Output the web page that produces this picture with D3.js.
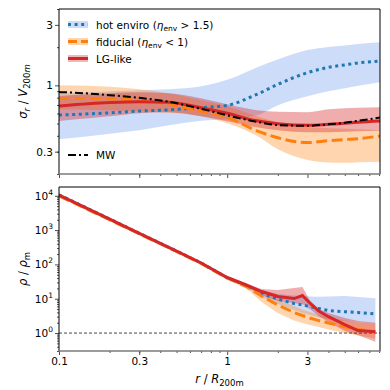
<!DOCTYPE html>
<html>
<head>
<meta charset="utf-8">
<script src="https://cdn.jsdelivr.net/npm/d3@7"></script>
<style>
  body { margin: 0; background: #fff; }
  text { font-family: "DejaVu Sans", sans-serif; }
</style>
</head>
<body>
<div id="canvas"></div>
<script>
"use strict"

/* Data: top panel, sigma_r / V200m vs r / R200m */
let rTop = [0.1, 0.15, 0.2, 0.3, 0.45, 0.7, 1, 1.5, 2, 3, 4, 5, 6, 8.1];

let hotMed = [0.584, 0.596, 0.607, 0.627, 0.641, 0.667, 0.696, 0.849, 1.018, 1.259, 1.386, 1.450, 1.504, 1.553];
let hotHi = [0.865, 0.881, 0.897, 0.913, 0.930, 0.982, 1.105, 1.386, 1.602, 1.897, 2.01, 2.065, 2.12, 2.19];
let hotLo = [0.376, 0.397, 0.415, 0.442, 0.484, 0.525, 0.540, 0.580, 0.696, 0.819, 0.897, 0.947, 0.991, 1.056];

let fidMed = [0.786, 0.786, 0.783, 0.762, 0.709, 0.624, 0.560, 0.438, 0.386, 0.354, 0.366, 0.374, 0.380, 0.399];
let fidHi = [1.0, 0.991, 0.973, 0.930, 0.865, 0.762, 0.684, 0.570, 0.512, 0.467, 0.459, 0.454, 0.450, 0.442];
let fidLo = [0.647, 0.641, 0.636, 0.624, 0.607, 0.570, 0.502, 0.400, 0.313, 0.258, 0.246, 0.245, 0.248, 0.250];

let lgMed = [0.687, 0.715, 0.731, 0.744, 0.735, 0.665, 0.602, 0.525, 0.498, 0.484, 0.493, 0.502, 0.512, 0.524];
let lgHi = [0.824, 0.849, 0.865, 0.881, 0.865, 0.790, 0.709, 0.636, 0.618, 0.613, 0.647, 0.659, 0.665, 0.671];
let lgLo = [0.524, 0.550, 0.570, 0.602, 0.613, 0.570, 0.521, 0.467, 0.442, 0.426, 0.426, 0.430, 0.434, 0.438];

let mwSig = [0.886, 0.862, 0.837, 0.797, 0.742, 0.653, 0.580, 0.516, 0.486, 0.480, 0.493, 0.507, 0.525, 0.557];

/* Data: bottom panel, rho / rho_m vs r / R200m */
let rBot = [0.1, 0.2, 0.3, 0.5, 0.7, 1, 1.3, 1.6, 2, 2.5, 2.8, 3.1, 3.5, 4, 5, 6, 7.6];

let hotRho = [10700, 2100, 810, 245, 111, 41, 24.3, 14.2, 9.8, 7.25, 6.55, 5.93, 5.18, 4.53, 4.18, 3.96, 3.58];
let hotRhoLo = [9700, 1920, 750, 226, 102, 37.5, 21.5, 11.2, 7.0, 4.69, 3.83, 3.35, 2.83, 2.47, 2.24, 2.09, 1.89];
let hotRhoHi = [11800, 2300, 880, 265, 121, 45, 27, 17.9, 13.7, 12.4, 12.0, 11.6, 11.4, 11.6, 12.0, 11.2, 10.3];

let fidRho = [9900, 2000, 780, 238, 107, 40.1, 22.7, 12.0, 6.55, 3.96, 3.24, 2.74, 2.31, 1.96, 1.53, 1.26, 1.09];
let fidRhoLo = [9000, 1820, 715, 218, 97, 36, 20, 8.0, 3.83, 2.31, 1.96, 1.71, 1.5, 1.26, 1.0, 0.85, 0.69];
let fidRhoHi = [10900, 2200, 850, 258, 117, 44, 25.5, 14.2, 9.17, 6.13, 4.84, 4.1, 3.46, 2.93, 2.31, 2.02, 1.89];

let lgRho = [10500, 2080, 800, 243, 110, 41.5, 25.1, 16.2, 11.6, 10.1, 12.4, 7.5, 4.4, 3.0, 1.77, 1.18, 1.09];
let lgRhoLo = [9600, 1900, 740, 225, 101, 38, 22.5, 12.8, 8.6, 7.4, 7.0, 5.0, 3.13, 2.09, 1.14, 0.87, 0.56];
let lgRhoHi = [11500, 2270, 870, 262, 119, 45, 27.5, 19.1, 17.9, 20.5, 21.9, 9.0, 5.0, 3.83, 2.74, 2.24, 2.0];

/* Tick values */
let xTicks = [0.1, 0.3, 1, 3];
let xTickLabels = ["0.1", "0.3", "1", "3"];
let yTopTicks = [0.3, 1, 3];
let yTopTickLabels = ["0.3", "1", "3"];
let yBotTicks = [1, 10, 100, 1000, 10000];
let yBotExponents = ["0", "1", "2", "3", "4"];

/* Drawing configuration */
let svgWidth = 390;
let svgHeight = 390;
let left = 59, right = 380;
let top1 = 9, bot1 = 174, top2 = 187, bot2 = 351;

let blue = "#1f77b4", orange = "#ff7f0e", red = "#d62728";

let svg = d3.select("#canvas")
    .append("svg")
    .attr("width", svgWidth)
    .attr("height", svgHeight);

/* Scales */
let xScale = d3.scaleLog().domain([0.1, 8.1]).range([left, right]);
let yTop = d3.scaleLog().domain([0.2, 4]).range([bot1, top1]);
let yBot = d3.scaleLog().domain([0.3, 18000]).range([bot2, top2]);

/* minor tick values */
function minorTicks(lo, hi) {
    let out = [];
    for (let e = Math.floor(Math.log10(lo)); e <= Math.ceil(Math.log10(hi)); e++) {
        for (let m = 2; m <= 9; m++) {
            let v = m * Math.pow(10, e);
            if (v >= lo && v <= hi) out.push(v);
        }
    }
    return out;
}

/* Clip paths */
let defs = svg.append("defs");
defs.append("clipPath").attr("id", "clipTop")
    .append("rect").attr("x", left).attr("y", top1).attr("width", right - left).attr("height", bot1 - top1);
defs.append("clipPath").attr("id", "clipBot")
    .append("rect").attr("x", left).attr("y", top2).attr("width", right - left).attr("height", bot2 - top2);

function drawBand(g, rs, lo, hi, yScale, color, opacity, curve) {
    let rows = rs.map((r, i) => ({ r: r, lo: lo[i], hi: hi[i] }));
    g.append("path")
        .datum(rows)
        .attr("fill", color)
        .attr("fill-opacity", opacity)
        .attr("stroke", "none")
        .attr("d", d3.area()
            .curve(curve)
            .x(d => xScale(d.r))
            .y0(d => yScale(d.lo))
            .y1(d => yScale(d.hi)));
}

function drawLine(g, rs, vals, yScale, color, width, dash, curve) {
    let rows = rs.map((r, i) => ({ r: r, v: vals[i] }));
    g.append("path")
        .datum(rows)
        .attr("fill", "none")
        .attr("stroke", color)
        .attr("stroke-width", width)
        .attr("stroke-dasharray", dash)
        .attr("d", d3.line()
            .curve(curve)
            .x(d => xScale(d.r))
            .y(d => yScale(d.v)));
}

/**** Top panel ****/
let gTop = svg.append("g").attr("clip-path", "url(#clipTop)");
let smooth = d3.curveMonotoneX;
drawBand(gTop, rTop, hotLo, hotHi, yTop, "#6495ed", 0.33, smooth);
drawBand(gTop, rTop, fidLo, fidHi, yTop, orange, 0.33, smooth);
drawBand(gTop, rTop, lgLo, lgHi, yTop, red, 0.38, smooth);
drawLine(gTop, rTop, hotMed, yTop, blue, 3, "3,3.6", smooth);
drawLine(gTop, rTop, fidMed, yTop, orange, 3, "11,4.5", smooth);
drawLine(gTop, rTop, lgMed, yTop, red, 3, null, smooth);
drawLine(gTop, rTop, mwSig, yTop, "black", 2, "8,3,2,3", smooth);

/**** Bottom panel ****/
let gBot = svg.append("g").attr("clip-path", "url(#clipBot)");
let straight = d3.curveLinear;
drawBand(gBot, rBot, hotRhoLo, hotRhoHi, yBot, "#6495ed", 0.33, straight);
drawBand(gBot, rBot, fidRhoLo, fidRhoHi, yBot, orange, 0.33, straight);
drawBand(gBot, rBot, lgRhoLo, lgRhoHi, yBot, red, 0.38, straight);

/* reference line at rho = rho_m */
gBot.append("line")
    .attr("x1", left).attr("x2", right)
    .attr("y1", yBot(1)).attr("y2", yBot(1))
    .attr("stroke", "#333")
    .attr("stroke-width", 0.9)
    .attr("stroke-dasharray", "3,2");

drawLine(gBot, rBot, hotRho, yBot, blue, 3, "3,3.6", straight);
drawLine(gBot, rBot, fidRho, yBot, orange, 3, "11,4.5", straight);
drawLine(gBot, rBot, lgRho, yBot, red, 3, null, straight);

/**** Axes ****/
function xAxis(y0, labels) {
    let major = svg.append("g")
        .attr("transform", "translate(0," + y0 + ")")
        .call(d3.axisBottom(xScale).tickValues(xTicks).tickSize(4).tickPadding(3)
            .tickFormat((d, i) => labels ? xTickLabels[i] : ""));
    let minor = svg.append("g")
        .attr("transform", "translate(0," + y0 + ")")
        .call(d3.axisBottom(xScale).tickValues(minorTicks(0.1, 8.1).filter(v => xTicks.indexOf(v) < 0))
            .tickSize(2).tickFormat(""));
    [major, minor].forEach(g => {
        g.select(".domain").remove();
        g.selectAll("line").attr("stroke", "#222").attr("stroke-width", 0.8);
        g.selectAll("text").attr("font-size", 10.5).attr("fill", "black")
            .attr("font-family", "DejaVu Sans");
    });
}
xAxis(bot1, false);
xAxis(bot2, true);

/* top y axis */
let yTopAxis = svg.append("g")
    .attr("transform", "translate(" + left + ",0)")
    .call(d3.axisLeft(yTop).tickValues(yTopTicks).tickSize(4).tickPadding(2)
        .tickFormat((d, i) => yTopTickLabels[i]));
let yTopMinor = svg.append("g")
    .attr("transform", "translate(" + left + ",0)")
    .call(d3.axisLeft(yTop).tickValues(minorTicks(0.2, 4).filter(v => yTopTicks.indexOf(v) < 0))
        .tickSize(2).tickFormat(""));

/* bottom y axis */
let yBotAxis = svg.append("g")
    .attr("transform", "translate(" + left + ",0)")
    .call(d3.axisLeft(yBot).tickValues(yBotTicks).tickSize(4).tickPadding(2).tickFormat(""));
let yBotMinor = svg.append("g")
    .attr("transform", "translate(" + left + ",0)")
    .call(d3.axisLeft(yBot).tickValues(minorTicks(0.3, 18000).filter(v => yBotTicks.indexOf(v) < 0))
        .tickSize(2).tickFormat(""));

[yTopAxis, yTopMinor, yBotAxis, yBotMinor].forEach(g => {
    g.select(".domain").remove();
    g.selectAll("line").attr("stroke", "#222").attr("stroke-width", 0.8);
    g.selectAll("text").attr("font-size", 10.5).attr("fill", "black")
        .attr("font-family", "DejaVu Sans");
});

/* power-of-ten labels */
yBotTicks.forEach((v, i) => {
    let t = svg.append("text")
        .attr("x", left - 6)
        .attr("y", yBot(v) + 4)
        .attr("text-anchor", "end")
        .attr("font-size", 10.5);
    t.append("tspan").text("10");
    t.append("tspan").attr("dy", -5).attr("font-size", 7.5).text(yBotExponents[i]);
});

/* Frames */
function frame(y0, y1) {
    svg.append("path")
        .attr("d", "M" + left + "," + y1 + "V" + y0 + "H" + right + "V" + y1)
        .attr("fill", "none").attr("stroke", "black").attr("stroke-width", 1);
    svg.append("line")
        .attr("x1", left - 0.5).attr("x2", right + 0.5)
        .attr("y1", y1).attr("y2", y1)
        .attr("stroke", "#7a7a7a").attr("stroke-width", 1.6);
}
frame(top1, bot1);
frame(top2, bot2);

/**** Axis titles ****/
let yLab1 = svg.append("text")
    .attr("transform", "translate(27," + ((top1 + bot1) / 2) + ") rotate(-90)")
    .attr("text-anchor", "middle")
    .attr("font-size", 11.5);
yLab1.append("tspan").attr("font-style", "italic").text("σ");
yLab1.append("tspan").attr("font-style", "italic").attr("font-size", 8.5).attr("dy", 3).text("r");
yLab1.append("tspan").attr("dy", -3).text(" / ");
yLab1.append("tspan").attr("font-style", "italic").text("V");
yLab1.append("tspan").attr("font-size", 8.5).attr("dy", 3).text("200");
yLab1.append("tspan").attr("font-size", 8.5).attr("font-style", "italic").text("m");

let yLab2 = svg.append("text")
    .attr("transform", "translate(27," + ((top2 + bot2) / 2) + ") rotate(-90)")
    .attr("text-anchor", "middle")
    .attr("font-size", 11.5);
yLab2.append("tspan").attr("font-style", "italic").text("ρ");
yLab2.append("tspan").text(" / ");
yLab2.append("tspan").attr("font-style", "italic").text("ρ");
yLab2.append("tspan").attr("font-size", 8.5).attr("dy", 3).text("m");

let xLab = svg.append("text")
    .attr("x", (left + right) / 2)
    .attr("y", 383)
    .attr("text-anchor", "middle")
    .attr("font-size", 11.5);
xLab.append("tspan").attr("font-style", "italic").text("r");
xLab.append("tspan").text(" / ");
xLab.append("tspan").attr("font-style", "italic").text("R");
xLab.append("tspan").attr("font-size", 8.5).attr("dy", 3).text("200m");

/**** Legend ****/
let legend = [
    { color: blue, band: "#6495ed", width: 3, dash: "3,3.6", pre: "hot enviro (", op: " > 1.5)" },
    { color: orange, band: orange, width: 3, dash: "9,4", pre: "fiducial (", op: " < 1)" },
    { color: red, band: red, width: 3, dash: null, label: "LG-like" }
];

legend.forEach((d, i) => {
    let cy = 24.5 + i * 17;
    svg.append("rect")
        .attr("x", 68).attr("y", cy - 3.5)
        .attr("width", 20).attr("height", 7)
        .attr("fill", d.band).attr("fill-opacity", 0.33);
    svg.append("line")
        .attr("x1", 68).attr("x2", 88)
        .attr("y1", cy).attr("y2", cy)
        .attr("stroke", d.color).attr("stroke-width", d.width)
        .attr("stroke-dasharray", d.dash);
    let t = svg.append("text")
        .attr("x", 96).attr("y", cy + 4)
        .attr("font-size", 10.5);
    if (d.label) {
        t.text(d.label);
    } else {
        t.append("tspan").text(d.pre);
        t.append("tspan").attr("font-style", "italic").text("η");
        t.append("tspan").attr("font-size", 7.5).attr("dy", 2.5).text("env");
        t.append("tspan").attr("dy", -2.5).text(d.op);
    }
});

/* MW legend, lower left of the top panel */
svg.append("line")
    .attr("x1", 68).attr("x2", 88)
    .attr("y1", 155).attr("y2", 155)
    .attr("stroke", "black").attr("stroke-width", 2)
    .attr("stroke-dasharray", "8,3,2,3");
svg.append("text")
    .attr("x", 96).attr("y", 159)
    .attr("font-size", 10.5)
    .text("MW");
</script>
</body>
</html>
